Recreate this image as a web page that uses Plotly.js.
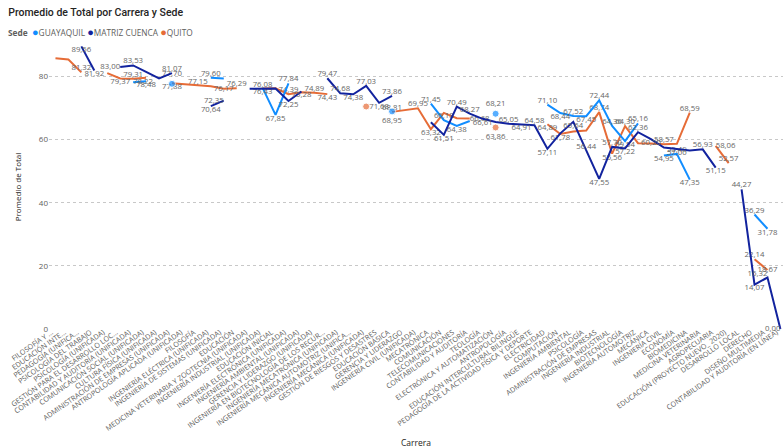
<!DOCTYPE html>
<html>
<head>
<meta charset="utf-8">
<script src="https://cdn.plot.ly/plotly-3.0.1.min.js"></script>
<style>
  html, body { margin: 0; padding: 0; background: #ffffff; }
  #chart { width: 783px; height: 448px; }
</style>
</head>
<body>
<div id="chart"></div>
<script>
// Careers, in the order they appear along the category axis
const carreras = [
  "FILOSOFÍA Y …",
  "EDUCACIÓN INTE…",
  "PEDAGOGÍA (UNIFICA…",
  "PSICOLOGÍA DEL TRABAJO",
  "PSICOLOGÍA (UNIFICADA)",
  "GESTIÓN PARA EL DESARROLLO LOC…",
  "CONTABILIDAD Y AUDITORÍA (UNIFICADA)",
  "COMUNICACIÓN SOCIAL (UNIFICADA)",
  "CULTURA FÍSICA (UNIFICADA)",
  "ADMINISTRACIÓN DE EMPRESAS (UNIFICADA)",
  "ANTROPOLOGÍA APLICADA (UNIFICADA)",
  "FILOSOFÍA",
  "INGENIERÍA ELÉCTRICA (UNIFICADA)",
  "INGENIERÍA DE SISTEMAS (UNIFICADA)",
  "EDUCACIÓN",
  "MEDICINA VETERINARIA Y ZOOTECNIA (UNIFICADA)",
  "INGENIERÍA INDUSTRIAL (UNIFICADA)",
  "EDUCACIÓN INICIAL",
  "INGENIERÍA ELECTRÓNICA (UNIFICADA)",
  "INGENIERÍA AMBIENTAL (UNIFICADA)",
  "GERENCIA Y LIDERAZGO (UNIFICADA)",
  "INGENIERÍA EN BIOTECNOLOGÍA DE LOS RECUR…",
  "INGENIERÍA MECATRÓNICA (UNIFICADA)",
  "INGENIERÍA MECÁNICA AUTOMOTRIZ (UNIFICA…",
  "INGENIERÍA MECÁNICA (UNIFICADA)",
  "GESTIÓN DE RIESGOS Y DESASTRES",
  "EDUCACIÓN BÁSICA",
  "GERENCIA Y LIDERAZGO",
  "INGENIERÍA CIVIL (UNIFICADA)",
  "MECATRÓNICA",
  "COMUNICACIÓN",
  "TELECOMUNICACIONES",
  "CONTABILIDAD Y AUDITORÍA",
  "TEOLOGÍA",
  "ELECTRÓNICA Y AUTOMATIZACIÓN",
  "ANTROPOLOGÍA",
  "EDUCACIÓN INTERCULTURAL BILINGÜE",
  "PEDAGOGÍA DE LA ACTIVIDAD FÍSICA Y DEPORTE",
  "ELECTRICIDAD",
  "COMPUTACIÓN",
  "INGENIERÍA AMBIENTAL",
  "PSICOLOGÍA",
  "ADMINISTRACIÓN DE EMPRESAS",
  "INGENIERÍA INDUSTRIAL",
  "BIOTECNOLOGÍA",
  "INGENIERÍA AUTOMOTRIZ",
  "MECÁNICA",
  "INGENIERÍA CIVIL",
  "ECONOMÍA",
  "BIOMEDICINA",
  "MEDICINA VETERINARIA",
  "AGROPECUARIA",
  "EDUCACIÓN (PROYECTO NUEVO_ 2020)",
  "DESARROLLO LOCAL",
  "DERECHO",
  "DISEÑO MULTIMEDIA",
  "CONTABILIDAD Y AUDITORÍA (EN LÍNEA)"
];

// Average total per career, one array per campus (null = career not offered there)
const guayaquil = [
  null, null, null, null, null, null, 78.22, 78.48, null, 77.70,
  null, null, 79.60, 79.40, null, null, 76.43, 67.85, 77.84, null,
  null, null, null, null, null, null, 68.95, null, null, 71.45,
  66.18, 64.38, 65.90, null, 68.21, null, null, null, 71.10, 68.44,
  67.52, 67.45, 72.44, 64.36, 59.54, 65.16, null, 54.95, 55.49, 47.35,
  null, null, null, null, 36.29, 31.78, null
];

const matrizCuenca = [
  null, null, 89.56, 81.92, null, 83.00, 83.53, 81.50, 79.40, 81.07,
  null, null, 70.64, 72.35, null, 76.10, 76.08, 76.20, 72.25, 75.28,
  null, 79.47, 74.68, 74.38, 77.03, 71.68, 73.86, null, null, 65.50,
  61.51, 70.49, 68.27, 66.61, 65.60, 65.05, 64.91, 64.58, 57.11, 62.00,
  65.64, 56.44, 47.55, 57.70, 57.22, 62.36, 60.20, 57.50, 57.00, 56.60,
  56.93, 51.15, null, 44.27, 14.07, 16.32, 0.00
];

const quito = [
  85.80, 85.40, 81.32, null, 81.10, 79.37, 79.31, 79.60, null, 77.88,
  77.60, 77.15, 76.90, 76.17, 76.29, null, 76.20, 76.30, 74.39, 75.00,
  74.89, 74.43, null, null, 70.50, null, 68.81, 69.50, 69.95, 63.32,
  68.50, 66.80, 66.68, null, 63.86, null, null, null, 64.89, 61.78,
  62.60, 62.90, 68.74, 55.56, 64.30, 58.90, 58.80, 58.57, 58.70, 68.59,
  null, 58.06, 52.57, null, 22.14, 18.67, null
];

const yTicks = [0, 20, 40, 60, 80];

// Where each data label sits relative to its point (index -> position)
const guayaquilLabelPos = {
  6: "middle right", 7: "bottom center", 9: "top center", 12: "top center",
  16: "bottom center", 17: "bottom center", 18: "top center", 26: "bottom center",
  29: "top center", 30: "top center", 31: "bottom center", 34: "top center",
  38: "top center", 39: "bottom center", 40: "top center", 41: "bottom center",
  42: "top center", 43: "top center", 44: "bottom center", 45: "top center",
  47: "bottom center", 48: "top center", 49: "bottom center",
  54: "top center", 55: "bottom center"
};
const matrizLabelPos = {
  2: "bottom center", 3: "bottom center", 5: "middle left", 6: "top center",
  9: "top center", 12: "bottom center", 13: "middle left", 16: "top center",
  18: "bottom center", 19: "bottom center", 21: "top center", 22: "top center",
  23: "bottom center", 24: "top center", 25: "bottom center", 26: "top center",
  30: "bottom center", 31: "top center", 32: "top center", 33: "bottom center",
  35: "top center", 36: "bottom center", 37: "top center", 38: "bottom center",
  40: "bottom center", 41: "top center", 42: "bottom center", 43: "top center",
  44: "bottom center", 45: "top center", 46: "bottom center", 48: "bottom center",
  50: "top center", 51: "bottom center", 53: "top center", 54: "bottom center",
  55: "top left", 56: "middle left"
};
const quitoLabelPos = {
  2: "top center", 5: "bottom center", 6: "top center", 9: "bottom center",
  11: "top center", 13: "middle center", 14: "top center", 18: "top center",
  20: "top center", 21: "bottom center", 26: "top center", 28: "top center",
  29: "bottom center", 32: "middle right", 34: "bottom center", 38: "bottom center",
  39: "bottom center", 42: "top center", 43: "bottom center", 44: "top center",
  47: "top center", 49: "top center", 51: "middle right", 52: "top center",
  54: "top center", 55: "middle center"
};

const fmt = v => v.toFixed(2).replace(".", ",");

// Build one line trace; isolated points (no neighbours) get a dot so they stay visible
function serie(name, values, color, labelPos) {
  const isolated = values.map((v, i) =>
    v !== null && (i === 0 || values[i - 1] === null) &&
    (i === values.length - 1 || values[i + 1] === null));
  return {
    type: "scatter",
    mode: "lines+markers+text",
    name: name,
    x: carreras,
    y: values,
    line: { color: color, width: 2 },
    marker: { color: color, size: isolated.map(f => (f ? 7 : 0)) },
    text: values.map((v, i) => (v !== null && labelPos[i] ? fmt(v) : "")),
    textposition: values.map((v, i) => labelPos[i] || "top center"),
    textfont: { family: "Segoe UI, Open Sans, sans-serif", size: 7.8, color: "#666666" },
    cliponaxis: false,
    connectgaps: false,
    hoverinfo: "skip",
    showlegend: false
  };
}

const data = [
  serie("QUITO", quito, "#E66C37", quitoLabelPos),
  serie("GUAYAQUIL", guayaquil, "#118DFF", guayaquilLabelPos),
  serie("MATRIZ CUENCA", matrizCuenca, "#12239E", matrizLabelPos)
];

const dot = c => "<span style='color:" + c + ";font-size:11px'>●</span>";

const layout = {
  width: 783,
  height: 448,
  paper_bgcolor: "#ffffff",
  plot_bgcolor: "#ffffff",
  margin: { l: 48.5, r: 0, t: 45, b: 119 },
  font: { family: "Segoe UI, Open Sans, sans-serif", color: "#605E5C" },
  title: {
    text: "Promedio de Total por Carrera y Sede",
    x: 0.0105, xanchor: "left", y: 0.973, yanchor: "middle",
    font: { family: "Roboto, Open Sans, sans-serif", size: 10.5, color: "#252423", weight: 500 }
  },
  xaxis: {
    type: "category",
    categoryorder: "array",
    categoryarray: carreras,
    tickmode: "array",
    tickvals: carreras,
    ticktext: carreras,
    range: [-0.5, 56.2],
    tickangle: -35,
    ticklabelstandoff: -3,
    ticklabelshift: -4,
    tickfont: { size: 7.2, color: "#605E5C" },
    showgrid: false,
    zeroline: false,
    showline: false,
    ticks: "",
    automargin: false,
    title: { text: "Carrera", font: { size: 8.5, color: "#252423" }, standoff: 12 }
  },
  yaxis: {
    range: [0, 90],
    tickmode: "array",
    tickvals: yTicks,
    ticktext: yTicks.map(String),
    tickfont: { size: 8, color: "#605E5C" },
    showgrid: true,
    gridcolor: "#C8C8C8",
    griddash: "dot",
    gridwidth: 1,
    zeroline: false,
    showline: false,
    ticks: "",
    automargin: false,
    title: { text: "Promedio de Total", font: { size: 8, color: "#252423" }, standoff: 16 }
  },
  annotations: [{
    xref: "paper", yref: "paper",
    x: -0.058, y: 1 + (45 - 32) / 284,
    xanchor: "left", yanchor: "middle",
    showarrow: false,
    align: "left",
    font: { family: "Segoe UI, Open Sans, sans-serif", size: 8.3, color: "#605E5C" },
    text: "<b>Sede</b>  " + dot("#118DFF") + "GUAYAQUIL " +
          dot("#12239E") + "MATRIZ CUENCA " +
          dot("#E66C37") + "QUITO"
  }],
  showlegend: false
};

Plotly.newPlot("chart", data, layout, { displayModeBar: false, staticPlot: true });
</script>
</body>
</html>
